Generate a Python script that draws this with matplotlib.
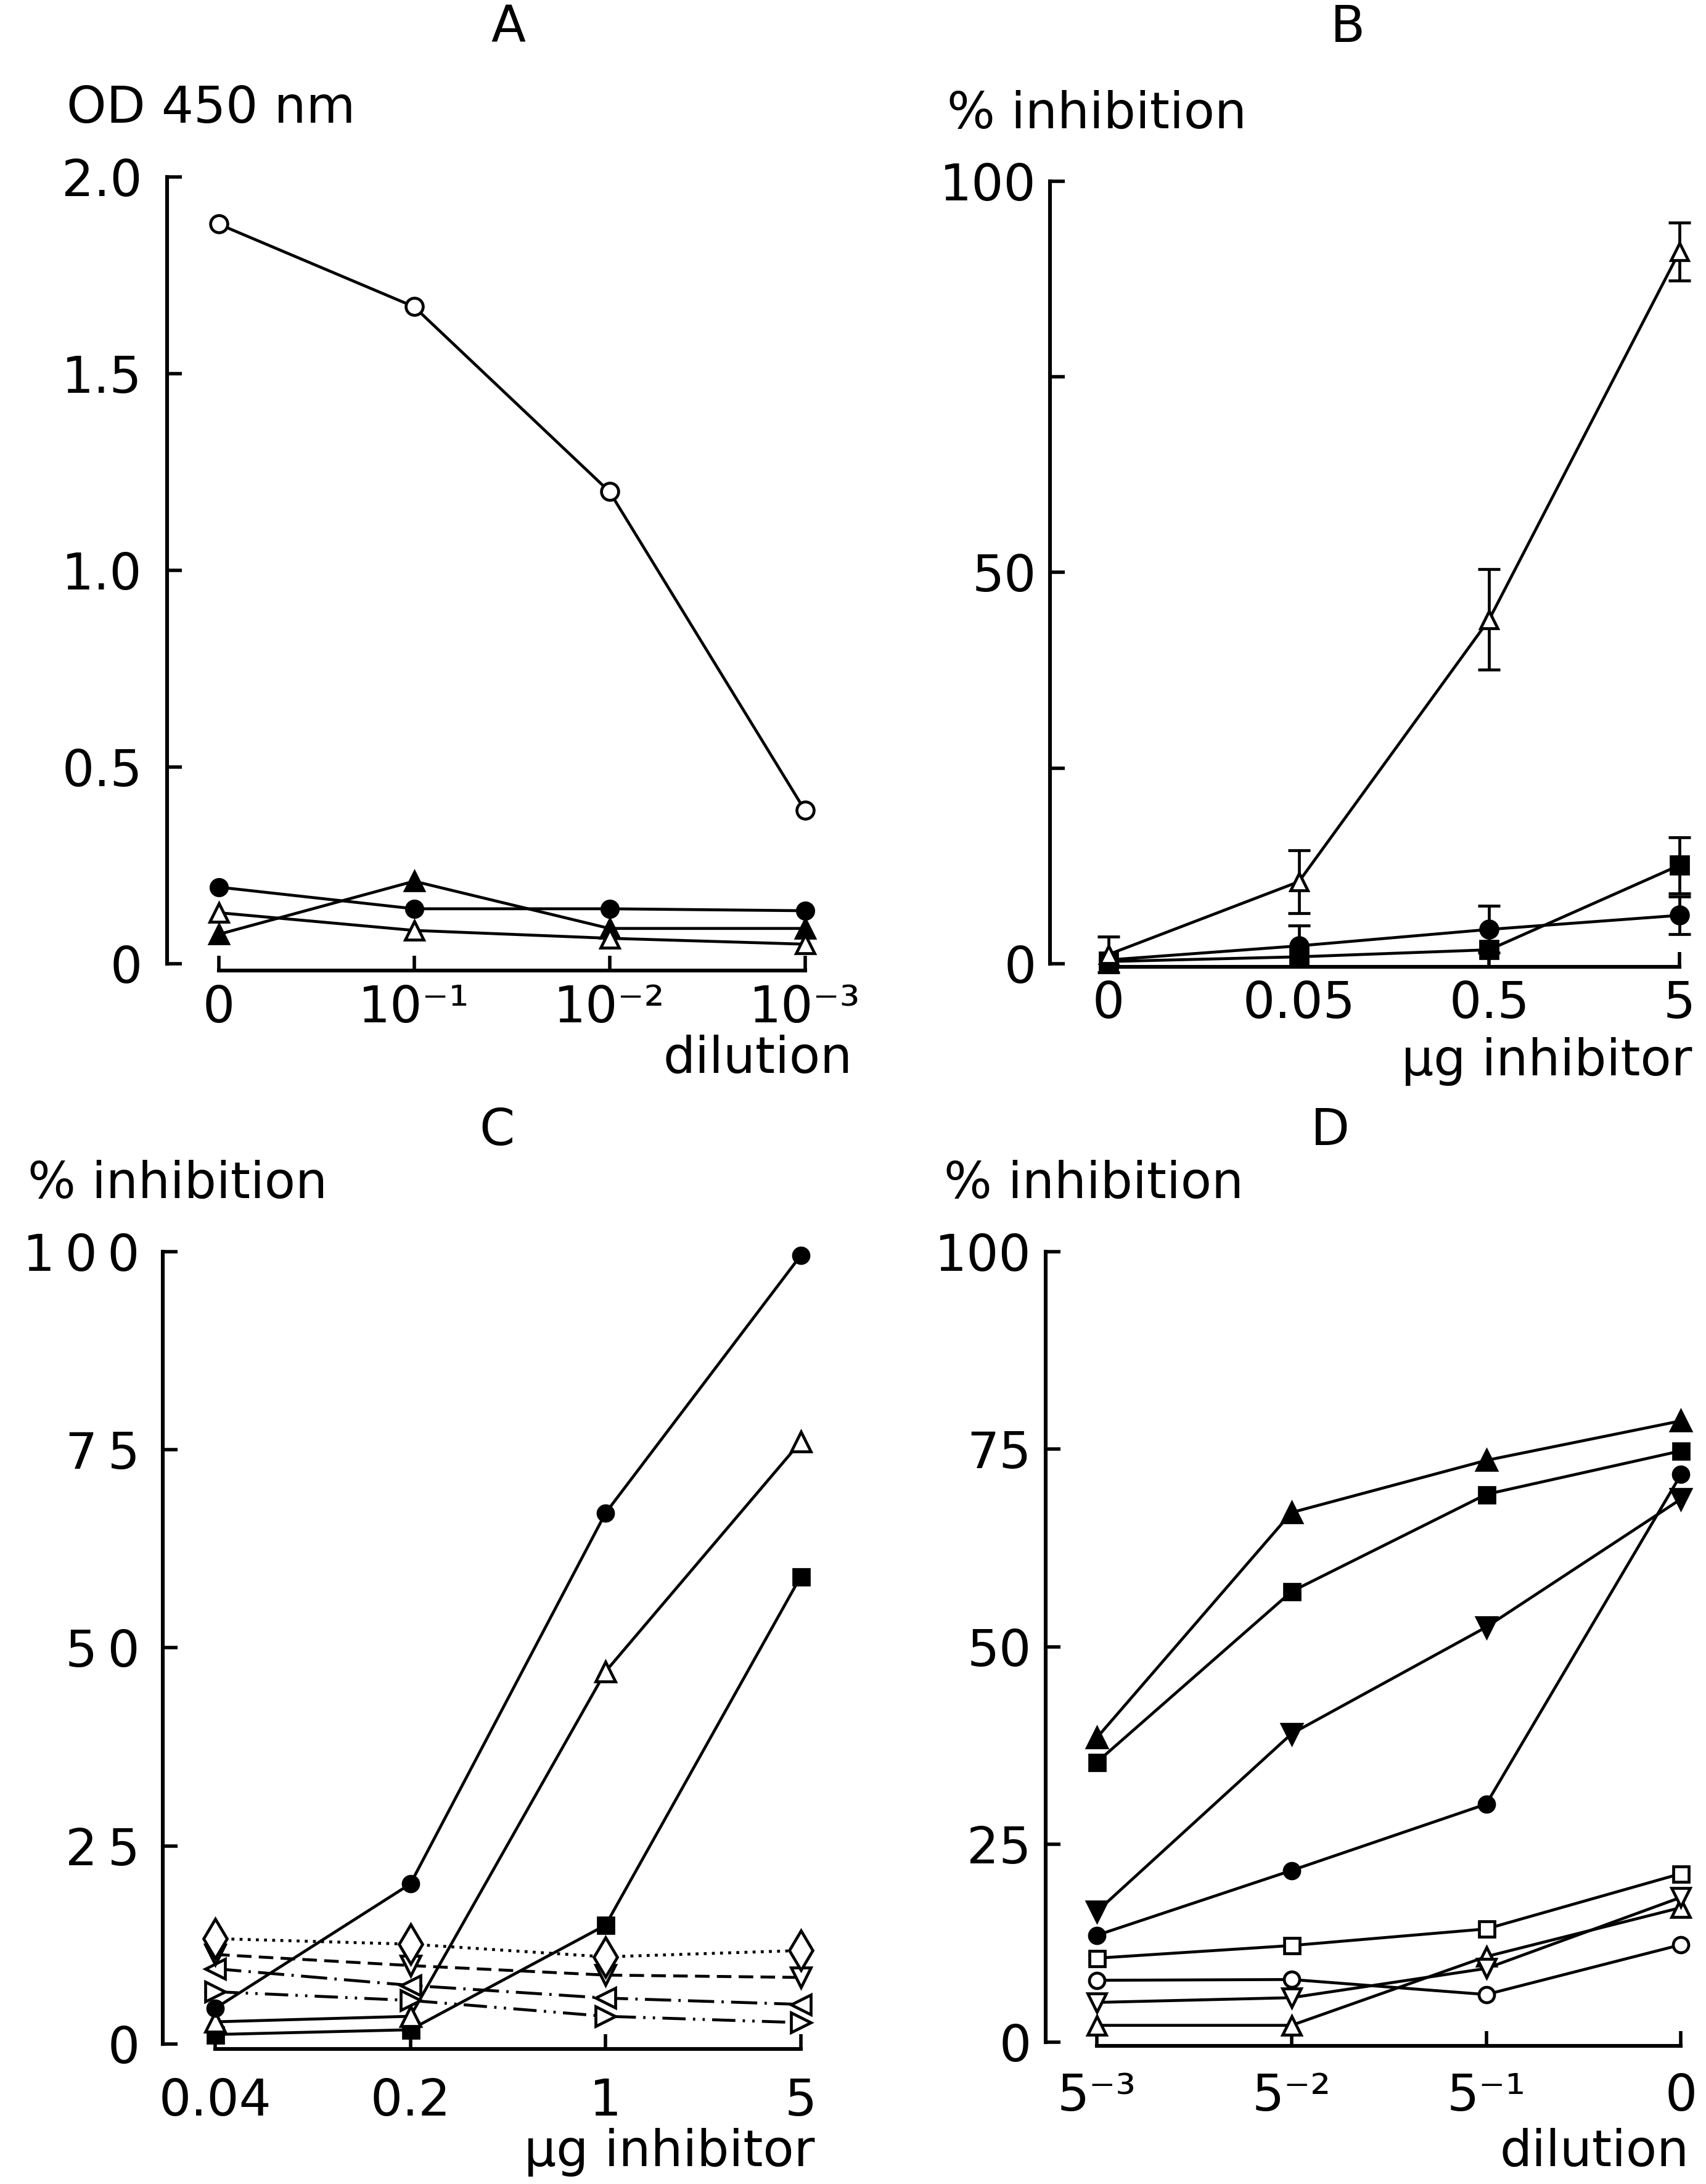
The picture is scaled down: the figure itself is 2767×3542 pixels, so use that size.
import numpy as np
import matplotlib.pyplot as plt

plt.rcParams['font.family'] = ['DejaVu Sans']

# layout is measured on a 1225 x 1568 preview of the figure
W_REF, H_REF = 1225, 1568
FS = 59
LW = 3.4

# ---- panel A: OD 450 nm vs dilution
dilution_a = ['0', '10⁻¹', '10⁻²', '10⁻³']
a_open_circle = [1.88, 1.67, 1.20, 0.39]
a_filled_circle = [0.195, 0.14, 0.14, 0.135]
a_open_triangle = [0.13, 0.085, 0.065, 0.05]
a_filled_triangle = [0.075, 0.21, 0.09, 0.09]

# ---- panel B: % inhibition vs ug inhibitor (mean +/- error)
inhibitor_b = ['0', '0.05', '0.5', '5']
b_open_triangle = [1.2, 10.5, 44.0, 91.0]
b_open_triangle_err = [2.3, 4.0, 6.4, 3.7]
b_filled_circle = [0.5, 2.3, 4.4, 6.2]
b_filled_circle_err = [np.nan, 2.6, 3.0, 2.4]
b_filled_square = [0.3, 0.9, 1.8, 12.6]
b_filled_square_err = [np.nan, np.nan, np.nan, 3.6]

# ---- panel C: % inhibition vs ug inhibitor
inhibitor_c = ['0.04', '0.2', '1', '5']
c_filled_circle = [4.5, 20.2, 67.0, 99.5]
c_open_triangle = [2.8, 3.5, 47.0, 76.0]
c_filled_square = [1.2, 1.8, 15.0, 59.0]
c_open_diamond = [13.3, 12.6, 11.0, 11.8]
c_open_down = [11.3, 9.9, 8.7, 8.4]
c_open_left = [9.5, 7.4, 5.8, 5.0]
c_open_right = [6.6, 5.5, 3.5, 2.7]

# ---- panel D: % inhibition vs dilution
dilution_d = ['5⁻³', '5⁻²', '5⁻¹', '0']
d_filled_triangle = [38.5, 67.0, 73.6, 78.6]
d_filled_square = [35.4, 57.0, 69.3, 74.8]
d_filled_down = [16.5, 39.0, 52.5, 68.7]
d_filled_circle = [13.5, 21.7, 30.1, 71.8]
d_open_square = [10.6, 12.2, 14.3, 21.3]
d_open_circle = [7.8, 7.9, 6.0, 12.3]
d_open_down = [5.0, 5.6, 9.3, 18.3]
d_open_triangle = [2.1, 2.1, 10.8, 17.0]

fig = plt.figure(figsize=(27.67, 35.42), dpi=100)
fig.patch.set_facecolor('white')


def make_axes(spine_x, x_first, x_last, y_zero, y_top, axis_y, ymax):
    dx = (x_last - x_first) / 3
    py = (y_zero - y_top) / ymax
    xl = (spine_x - x_first) / dx
    xr = 3.03
    yb = -(axis_y - y_zero) / py
    right = x_first + xr * dx
    ax = fig.add_axes([spine_x / W_REF, 1 - axis_y / H_REF,
                       (right - spine_x) / W_REF, (axis_y - y_top) / H_REF])
    ax.set_xlim(xl, xr)
    ax.set_ylim(yb, ymax)
    for s in ['top', 'right']:
        ax.spines[s].set_visible(False)
    ax.spines['left'].set_bounds(0, ymax)
    ax.spines['bottom'].set_bounds(0, 3)
    for s in ['left', 'bottom']:
        ax.spines[s].set_linewidth(4.4)
        ax.spines[s].set_capstyle('projecting')
    ax.patch.set_alpha(0)
    return ax


def style_ticks(ax, xlabels, yticks, ylabels, xpad, ypad):
    ax.set_xticks(range(4), xlabels, va='baseline', fontsize=FS)
    ax.set_yticks(yticks, ylabels, fontsize=FS)
    ax.tick_params(axis='both', direction='in', length=17, width=4.0)
    ax.tick_params(axis='x', pad=xpad)
    ax.tick_params(axis='y', pad=ypad)


def series(ax, y, marker, filled, ls='-', ms=22):
    ax.plot(range(4), y, ls=ls, color='black', lw=LW, marker=marker, ms=ms,
            mfc='black' if filled else 'white', mec='black', mew=LW,
            clip_on=False)


def label(x, y, s, ha='left'):
    fig.text(x / W_REF, 1 - y / H_REF, s, ha=ha, va='center', fontsize=FS)


# panel A
ax_a = make_axes(120, 157, 578, 692, 127, 697, 2.0)
style_ticks(ax_a, dilution_a, [0, 0.5, 1.0, 1.5, 2.0],
            ['0', '0.5', '1.0', '1.5', '2.0'], 60, 29)
series(ax_a, a_filled_triangle, '^', True, ms=21)
series(ax_a, a_open_triangle, '^', False, ms=21)
series(ax_a, a_filled_circle, 'o', True, ms=19)
series(ax_a, a_open_circle, 'o', False, ms=20)

# panel B
ax_b = make_axes(754, 796, 1206, 692, 130, 694, 100)
style_ticks(ax_b, inhibitor_b, [0, 25, 50, 75, 100],
            ['0', '', '50', '', '100'], 60, 16)
for y, err, marker, filled in [
        (b_filled_square, b_filled_square_err, 's', True),
        (b_filled_circle, b_filled_circle_err, 'o', True),
        (b_open_triangle, b_open_triangle_err, '^', False)]:
    ax_b.errorbar(range(4), y, yerr=err, color='black', lw=LW, marker=marker,
                  ms=20, mfc='black' if filled else 'white', mec='black',
                  mew=LW, capsize=13, capthick=LW, elinewidth=LW, clip_on=False)

# panel C
ax_c = make_axes(117, 154.5, 575, 1467.5, 898.5, 1471, 100)
style_ticks(ax_c, inhibitor_c, [0, 25, 50, 75, 100],
            ['0', '2\u20095', '5\u20090', '7\u20095', '1\u20090\u20090'], 78, 27)
series(ax_c, c_open_right, '>', False, ls=(0, (8, 2.5, 0.8, 2.5, 0.8, 2.5)), ms=23)
series(ax_c, c_open_left, '<', False, ls=(0, (9, 2.5, 0.8, 2.5)), ms=23)
series(ax_c, c_open_down, 'v', False, ls=(0, (5, 2.5)), ms=23)
series(ax_c, c_open_diamond, 'd', False, ls=(0, (1, 1.8)), ms=33)
series(ax_c, c_filled_square, 's', True, ms=18)
series(ax_c, c_open_triangle, '^', False, ms=23)
series(ax_c, c_filled_circle, 'o', True, ms=18)

# panel D
ax_d = make_axes(751, 787.6, 1207, 1466, 898.7, 1469, 100)
style_ticks(ax_d, dilution_d, [0, 25, 50, 75, 100],
            ['0', '25', '50', '75', '100'], 75, 17)
series(ax_d, d_open_triangle, '^', False, ms=22)
series(ax_d, d_open_down, 'v', False, ms=22)
series(ax_d, d_open_circle, 'o', False, ms=18)
series(ax_d, d_open_square, 's', False, ms=18)
series(ax_d, d_filled_circle, 'o', True, ms=18)
series(ax_d, d_filled_down, 'v', True, ms=23)
series(ax_d, d_filled_square, 's', True, ms=18)
series(ax_d, d_filled_triangle, '^', True, ms=23)

# panel letters and axis titles
label(365, 20, 'A', ha='center')
label(968, 20, 'B', ha='center')
label(357, 812, 'C', ha='center')
label(955, 812, 'D', ha='center')
label(48, 78, 'OD 450 nm')
label(680, 82, '% inhibition')
label(612, 760, 'dilution', ha='right')
label(1215, 762, 'µg inhibitor', ha='right')
label(20, 850, '% inhibition')
label(585, 1545, 'µg inhibitor', ha='right')
label(678, 850, '% inhibition')
label(1213, 1545, 'dilution', ha='right')

fig.savefig('out.png', dpi=100, facecolor='white')
